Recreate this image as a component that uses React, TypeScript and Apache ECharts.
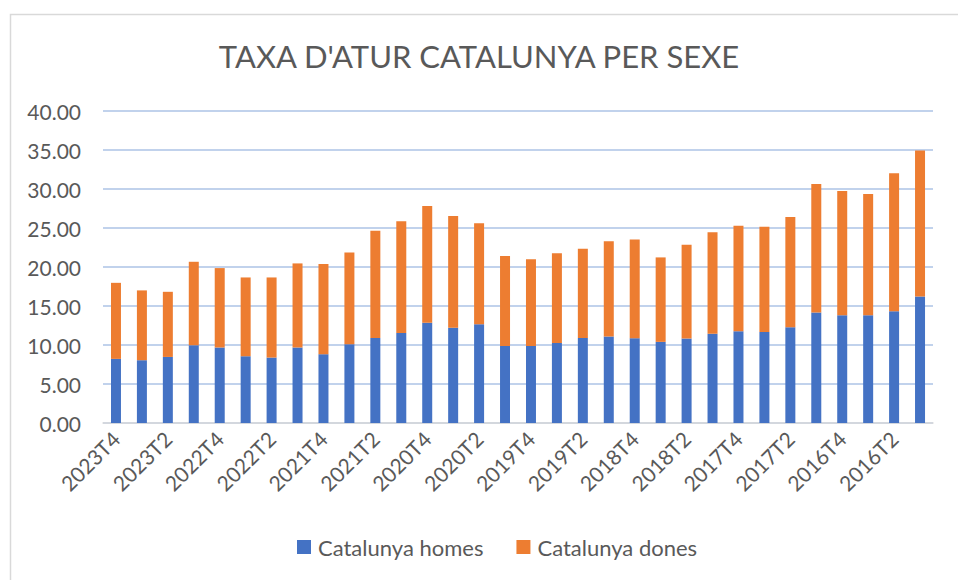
import React, { useEffect, useRef } from "react";
import * as echarts from "echarts";

const categories = [
  "2023T4", "2023T3", "2023T2", "2023T1",
  "2022T4", "2022T3", "2022T2", "2022T1",
  "2021T4", "2021T3", "2021T2", "2021T1",
  "2020T4", "2020T3", "2020T2", "2020T1",
  "2019T4", "2019T3", "2019T2", "2019T1",
  "2018T4", "2018T3", "2018T2", "2018T1",
  "2017T4", "2017T3", "2017T2", "2017T1",
  "2016T4", "2016T3", "2016T2", "2016T1",
];

const homes = [
  8.22, 8.05, 8.47, 9.97,
  9.68, 8.56, 8.39, 9.68,
  8.82, 10.1, 10.91, 11.55,
  12.84, 12.2, 12.67, 9.88,
  9.88, 10.27, 10.91, 11.09,
  10.87, 10.4, 10.83, 11.43,
  11.77, 11.68, 12.28, 14.17,
  13.83, 13.83, 14.34, 16.23,
];

const dones = [
  9.75, 8.95, 8.35, 10.7,
  10.18, 10.1, 10.27, 10.78,
  11.55, 11.77, 13.74, 14.3,
  14.98, 14.33, 12.93, 11.52,
  11.1, 11.48, 11.43, 12.2,
  12.67, 10.83, 12.02, 13.01,
  13.52, 13.48, 14.12, 16.47,
  15.91, 15.53, 17.68, 18.69,
];

const seriesNames = ["Catalunya homes", "Catalunya dones"];
const yTicks = { min: 0, max: 40, interval: 5 };

export default function App() {
  const ref = useRef<HTMLDivElement>(null);
  useEffect(() => {
    if (!ref.current) return;
    const chart = echarts.init(ref.current, null, { renderer: "svg" });
    const font = "Lato";
    chart.setOption({
      animation: false,
      backgroundColor: "#ffffff",
      textStyle: { fontFamily: font },
      title: {
        text: "TAXA D'ATUR CATALUNYA PER SEXE",
        left: "center",
        top: 35,
        textStyle: { fontFamily: font, fontSize: 31, fontWeight: "normal", color: "#595959" },
      },
      legend: {
        bottom: 17,
        left: 292,
        itemWidth: 14,
        itemHeight: 14,
        itemGap: 33,
        icon: "rect",
        textStyle: { fontFamily: font, fontSize: 22, color: "#595959", padding: [0, 0, 0, 2] },
        data: seriesNames,
      },
      grid: { left: 103, right: 25, top: 111, bottom: 157, containLabel: false },
      xAxis: {
        type: "category",
        data: categories,
        axisLine: { show: true, lineStyle: { color: "#d9d9d9", width: 1.5 } },
        axisTick: { show: false },
        axisLabel: {
          interval: 1,
          rotate: 45,
          margin: 12,
          fontFamily: font,
          fontSize: 21,
          color: "#595959",
        },
      },
      yAxis: {
        type: "value",
        min: yTicks.min,
        max: yTicks.max,
        interval: yTicks.interval,
        axisLine: { show: false },
        axisTick: { show: false },
        splitLine: { lineStyle: { color: "#adc3e6", width: 1.5 } },
        axisLabel: {
          formatter: (v: number) => v.toFixed(2),
          margin: 22,
          fontFamily: font,
          fontSize: 21,
          color: "#595959",
        },
      },
      series: [
        {
          name: seriesNames[0],
          type: "bar",
          stack: "total",
          data: homes,
          barWidth: 10,
          itemStyle: { color: "#4472c4" },
        },
        {
          name: seriesNames[1],
          type: "bar",
          stack: "total",
          data: dones,
          barWidth: 10,
          itemStyle: { color: "#ed7d31" },
        },
      ],
      graphic: [
        {
          type: "rect",
          left: 8,
          top: 12,
          shape: { x: 0, y: 0, width: 960, height: 580 },
          style: { fill: "none", stroke: "#d9d9d9", lineWidth: 1.5 },
          silent: true,
          z: -1,
        },
      ],
    });
    return () => chart.dispose();
  }, []);
  return (
    <div
      ref={ref}
      style={{ position: "absolute", left: 0, top: 0, width: 958, height: 580 }}
    />
  );
}
